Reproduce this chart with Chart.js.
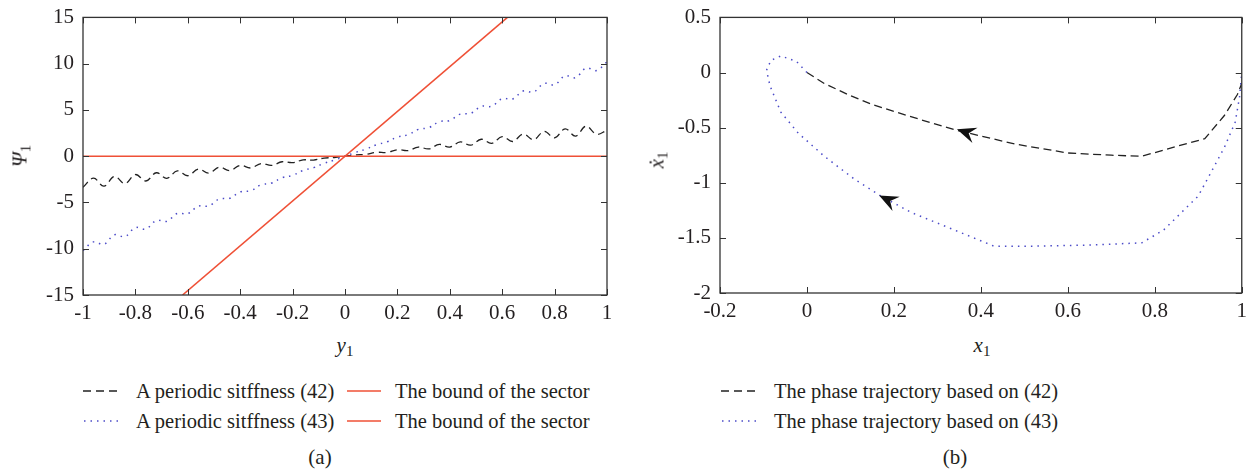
<!DOCTYPE html>
<html>
<head>
<meta charset="utf-8">
<script src="https://cdn.jsdelivr.net/npm/chart.js@4.4.1/dist/chart.umd.min.js"></script>
<style>
  body { margin: 0; background: #fff; width: 1253px; height: 470px; position: relative; overflow: hidden;
    font-family: "Liberation Serif", "DejaVu Serif", serif; color: #231f20; }
  .abs { position: absolute; white-space: nowrap; }
  .lab { font-size: 21px; }
  .lab i { font-style: italic; }
  .lab sub { font-size: 15px; vertical-align: -4px; font-style: normal; }
  .rot { transform: translate(-50%, -50%) rotate(-90deg); }
  .ctr { transform: translate(-50%, -50%); }
  .leg { font-size: 20.5px; line-height: 30px; height: 30px; display: flex; align-items: center; }
  .leg svg { display: block; }
</style>
</head>
<body>
<div class="abs" style="left:0;top:0;"><canvas id="chartA" width="625" height="330"></canvas></div>
<div class="abs" style="left:640px;top:0;"><canvas id="chartB" width="613" height="330"></canvas></div>

<div class="abs lab rot" style="left:21px;top:156px;"><i>Ψ</i><sub>1</sub></div>
<div class="abs lab ctr" style="left:345px;top:346px;"><i>y</i><sub>1</sub></div>
<div class="abs lab rot" style="left:658px;top:160px;"><i>ẋ</i><sub>1</sub></div>
<div class="abs lab ctr" style="left:982px;top:346px;"><i>x</i><sub>1</sub></div>

<div class="abs leg" style="left:83px;top:376px;">
  <svg width="36" height="4"><line x1="0" y1="2" x2="36" y2="2" stroke="#222" stroke-width="1.3" stroke-dasharray="8,5"/></svg>
</div>
<div class="abs leg" style="left:136px;top:376px;">A periodic sitffness (42)</div>
<div class="abs leg" style="left:347px;top:376px;">
  <svg width="34" height="4"><line x1="0" y1="2" x2="34" y2="2" stroke="#ef5036" stroke-width="1.6"/></svg>
</div>
<div class="abs leg" style="left:395px;top:376px;">The bound of the sector</div>
<div class="abs leg" style="left:83px;top:406px;">
  <svg width="36" height="4"><line x1="1" y1="2" x2="36" y2="2" stroke="#4b4bc8" stroke-width="1.5" stroke-dasharray="1.5,5"/></svg>
</div>
<div class="abs leg" style="left:136px;top:406px;">A periodic sitffness (43)</div>
<div class="abs leg" style="left:347px;top:406px;">
  <svg width="34" height="4"><line x1="0" y1="2" x2="34" y2="2" stroke="#ef5036" stroke-width="1.6"/></svg>
</div>
<div class="abs leg" style="left:395px;top:406px;">The bound of the sector</div>
<div class="abs lab ctr" style="left:320px;top:457px;">(a)</div>

<div class="abs leg" style="left:721px;top:376px;">
  <svg width="36" height="4"><line x1="0" y1="2" x2="36" y2="2" stroke="#222" stroke-width="1.3" stroke-dasharray="8,5"/></svg>
</div>
<div class="abs leg" style="left:774px;top:376px;">The phase trajectory based on (42)</div>
<div class="abs leg" style="left:721px;top:406px;">
  <svg width="36" height="4"><line x1="1" y1="2" x2="36" y2="2" stroke="#4b4bc8" stroke-width="1.5" stroke-dasharray="1.5,5"/></svg>
</div>
<div class="abs leg" style="left:774px;top:406px;">The phase trajectory based on (43)</div>
<div class="abs lab ctr" style="left:955px;top:457px;">(b)</div>

<script>
// (a) nonlinearity vs y1
const yGrid = [-1, -0.96, -0.92, -0.88, -0.84, -0.8, -0.76, -0.72, -0.68, -0.64, -0.6, -0.56, -0.52,
  -0.48, -0.44, -0.4, -0.36, -0.32, -0.28, -0.24, -0.2, -0.16, -0.12, -0.08, -0.04, 0,
  0.04, 0.08, 0.12, 0.16, 0.2, 0.24, 0.28, 0.32, 0.36, 0.4, 0.44, 0.48, 0.52, 0.56, 0.6,
  0.64, 0.68, 0.72, 0.76, 0.8, 0.84, 0.88, 0.92, 0.96, 1];
const psi42 = [-3.35, -2.38, -3.24, -2.18, -2.96, -1.98, -2.68, -1.79, -2.39, -1.59, -2.11, -1.39, -1.83,
  -1.19, -1.55, -0.99, -1.27, -0.79, -0.99, -0.6, -0.7, -0.4, -0.42, -0.2, -0.14, 0,
  0.14, 0.2, 0.42, 0.4, 0.7, 0.6, 0.99, 0.79, 1.27, 0.99, 1.55, 1.19, 1.83, 1.39, 2.11,
  1.59, 2.39, 1.79, 2.68, 1.98, 2.96, 2.18, 3.24, 2.38, 2.8];
const psi43 = [-10.2, -9.26, -9.52, -8.49, -8.69, -7.72, -7.87, -6.95, -7.04, -6.18, -6.21, -5.4, -5.38,
  -4.63, -4.55, -3.86, -3.73, -3.09, -2.9, -2.32, -2.07, -1.54, -1.24, -0.77, -0.41, 0,
  0.41, 0.77, 1.24, 1.54, 2.07, 2.32, 2.9, 3.09, 3.73, 3.86, 4.55, 4.63, 5.38, 5.4, 6.21,
  6.18, 7.04, 6.95, 7.87, 7.72, 8.69, 8.49, 9.52, 9.26, 10.2];
const sectorX = [-0.62, 0.62];
const sectorY = [-15, 15];
const zeroX = [-1, 1];
const zeroY = [0, 0];

// (b) phase trajectories
const phaseX42 = [0, 0.04, 0.1, 0.15, 0.23, 0.34, 0.48, 0.6, 0.7, 0.77, 0.85, 0.915, 0.96, 0.99, 1.0];
const phaseV42 = [0, -0.1, -0.21, -0.29, -0.39, -0.52, -0.65, -0.73, -0.75, -0.76, -0.67, -0.6, -0.39, -0.2, -0.1];
const phaseX43 = [0, -0.024, -0.06, -0.083, -0.093, -0.085, -0.06, -0.02, 0.04, 0.11, 0.17, 0.24, 0.34,
  0.43, 0.52, 0.65, 0.77, 0.82, 0.9, 0.96, 0.985, 0.995, 1.0];
const phaseV43 = [0, 0.1, 0.15, 0.11, 0.02, -0.12, -0.36, -0.55, -0.76, -0.97, -1.12, -1.27, -1.43,
  -1.575, -1.575, -1.565, -1.545, -1.43, -1.12, -0.68, -0.45, -0.22, 0];
// arrow heads: tip and a point behind it on the curve
const arrowTipX = [0.345, 0.166];
const arrowTipY = [-0.515, -1.115];
const arrowBackX = [0.39, 0.203];
const arrowBackY = [-0.575, -1.188];

const RED = "#ef5036";
const BLUE = "#4b4bc8";
const BLACK = "#222";

Chart.defaults.font.family = '"Liberation Serif", "DejaVu Serif", serif';
Chart.defaults.font.size = 21;
Chart.defaults.color = "#231f20";

function pts(xs, ys) {
  return xs.map((x, i) => ({ x: x, y: ys[i] }));
}

const boxTicks = {
  id: "boxTicks",
  afterDatasetsDraw(chart) {
    const ctx = chart.ctx;
    const a = chart.chartArea;
    const x = chart.scales.x;
    const y = chart.scales.y;
    ctx.save();
    ctx.strokeStyle = "#333";
    ctx.lineWidth = 1;
    ctx.beginPath();
    x.ticks.forEach((t) => {
      const px = Math.round(x.getPixelForValue(t.value)) + 0.5;
      ctx.moveTo(px, a.bottom);
      ctx.lineTo(px, a.bottom - 6);
      ctx.moveTo(px, a.top);
      ctx.lineTo(px, a.top + 6);
    });
    y.ticks.forEach((t) => {
      const py = Math.round(y.getPixelForValue(t.value)) + 0.5;
      ctx.moveTo(a.left, py);
      ctx.lineTo(a.left + 6, py);
      ctx.moveTo(a.right, py);
      ctx.lineTo(a.right - 6, py);
    });
    ctx.stroke();
    ctx.lineWidth = 1.3;
    ctx.strokeRect(a.left, a.top, a.right - a.left, a.bottom - a.top);
    ctx.restore();
  },
};

const arrowHeads = {
  id: "arrowHeads",
  afterDatasetsDraw(chart) {
    const ctx = chart.ctx;
    const x = chart.scales.x;
    const y = chart.scales.y;
    ctx.save();
    ctx.fillStyle = "#111";
    arrowTipX.forEach((tx, i) => {
      const px = x.getPixelForValue(tx);
      const py = y.getPixelForValue(arrowTipY[i]);
      const bx = x.getPixelForValue(arrowBackX[i]);
      const by = y.getPixelForValue(arrowBackY[i]);
      const ang = Math.atan2(py - by, px - bx);
      const L = 19, W = 8;
      ctx.translate(px, py);
      ctx.rotate(ang);
      ctx.beginPath();
      ctx.moveTo(0, 0);
      ctx.lineTo(-L, -W);
      ctx.lineTo(-L * 0.65, 0);
      ctx.lineTo(-L, W);
      ctx.closePath();
      ctx.fill();
      ctx.setTransform(1, 0, 0, 1, 0, 0);
    });
    ctx.restore();
  },
};

function axis(min, max, step, size, isY, pad) {
  return {
    type: "linear",
    min: min,
    max: max,
    grid: { display: false, drawTicks: false },
    border: { display: false },
    ticks: {
      stepSize: step,
      padding: pad,
      font: { lineHeight: isY ? 0.8 : 1.2 },
      callback: (v) => String(Math.round(v * 10) / 10),
    },
    afterFit: (s) => {
      if (isY) s.width = size;
      else s.height = size;
    },
  };
}

const commonPlugins = {
  legend: { display: false },
  tooltip: { enabled: false },
};

new Chart(document.getElementById("chartA"), {
  type: "line",
  data: {
    datasets: [
      { data: pts(zeroX, zeroY), borderColor: RED, borderWidth: 1.6, pointRadius: 0 },
      { data: pts(sectorX, sectorY), borderColor: RED, borderWidth: 1.6, pointRadius: 0 },
      { data: pts(yGrid, psi43), borderColor: BLUE, borderWidth: 1.5, borderDash: [1.5, 5], pointRadius: 0, tension: 0.4 },
      { data: pts(yGrid, psi42), borderColor: BLACK, borderWidth: 1.3, borderDash: [7, 4.5], pointRadius: 0, tension: 0.4 },
    ],
  },
  options: {
    responsive: false,
    animation: false,
    layout: { padding: { top: 16, right: 18, left: 0, bottom: 0 } },
    scales: {
      x: axis(-1, 1, 0.2, 35, false, 6),
      y: axis(-15, 15, 5, 83, true, 9),
    },
    plugins: commonPlugins,
  },
  plugins: [boxTicks],
});

new Chart(document.getElementById("chartB"), {
  type: "line",
  data: {
    datasets: [
      { data: pts(phaseX43, phaseV43), borderColor: BLUE, borderWidth: 1.5, borderDash: [1.5, 5], pointRadius: 0, tension: 0 },
      { data: pts(phaseX42, phaseV42), borderColor: BLACK, borderWidth: 1.3, borderDash: [8, 4.5], pointRadius: 0, tension: 0 },
    ],
  },
  options: {
    responsive: false,
    animation: false,
    layout: { padding: { top: 16, right: 9, left: 0, bottom: 0 } },
    scales: {
      x: axis(-0.2, 1, 0.2, 37, false, 6),
      y: axis(-2, 0.5, 0.5, 80, true, 9),
    },
    plugins: commonPlugins,
  },
  plugins: [boxTicks, arrowHeads],
});
</script>
</body>
</html>
